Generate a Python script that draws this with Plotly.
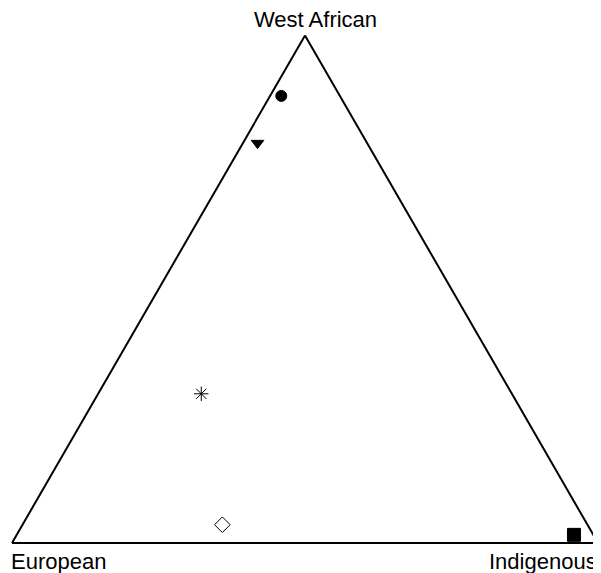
import plotly.graph_objects as go

# Ternary compositions (West African, European, Indigenous)
groups = ["Group 1", "Group 2", "Group 3", "Group 4", "Group 5"]
west_african = [0.881, 0.788, 0.294, 0.036, 0.016]
european = [0.100, 0.187, 0.530, 0.623, 0.033]
indigenous = [0.019, 0.025, 0.176, 0.341, 0.951]
symbols = ["circle", "triangle-down", "asterisk-open", "diamond-open", "square"]
sizes = [11, 11, 12, 12, 13]

# page has an 8px body margin, so the figure is drawn 8px smaller and offset
OFF = 8
W, H = 601 - OFF, 573 - OFF

def px(x):
    return (x - OFF) / W

def py(y):
    return 1 - (y - OFF) / H

fig = go.Figure()
for i in range(len(groups)):
    fig.add_trace(go.Scatterternary(
        a=[west_african[i]], b=[european[i]], c=[indigenous[i]],
        mode="markers", name=groups[i],
        marker=dict(symbol=symbols[i], size=sizes[i], color="black",
                    line=dict(color="black", width=1)),
        showlegend=False,
    ))

axis_style = dict(showgrid=False, showticklabels=False, ticks="",
                  linecolor="black", linewidth=2, title=dict(text=""), min=0)

fig.update_layout(
    width=W, height=H,
    margin=dict(l=0, r=0, t=0, b=0),
    paper_bgcolor="white",
    ternary=dict(
        domain=dict(x=[px(12), px(598)], y=[py(543), py(35.5)]),
        bgcolor="white",
        sum=1,
        aaxis=axis_style, baxis=axis_style, caxis=axis_style,
    ),
    font=dict(family="Liberation Sans, Arial, sans-serif", size=22, color="black"),
    annotations=[
        dict(text="West African", xref="paper", yref="paper", x=px(315), y=py(20),
             xanchor="center", yanchor="middle", showarrow=False),
        dict(text="European", xref="paper", yref="paper", x=px(9), y=py(561),
             xanchor="left", yanchor="middle", showarrow=False),
        dict(text="Indigenous", xref="paper", yref="paper", x=px(599), y=py(561),
             xanchor="right", yanchor="middle", showarrow=False),
    ],
)

fig.write_html("out.html")
